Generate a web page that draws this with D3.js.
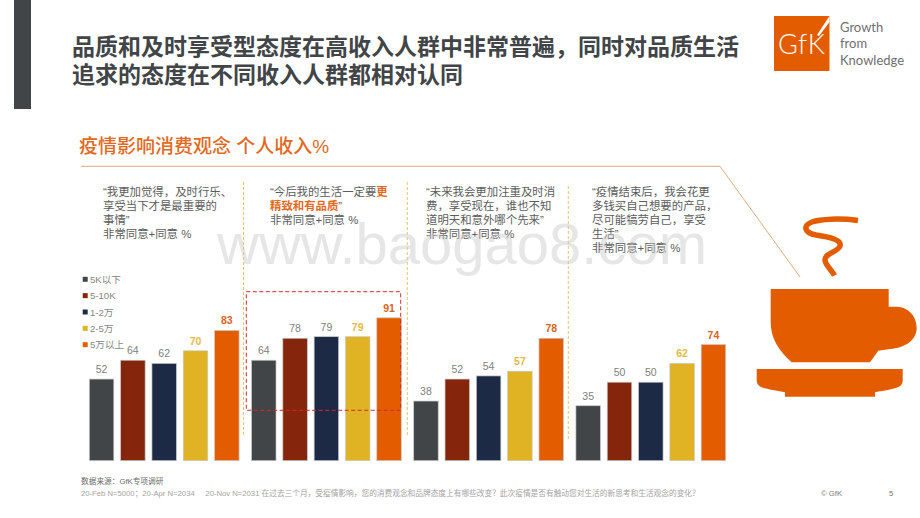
<!DOCTYPE html>
<html>
<head>
<meta charset="utf-8">
<script src="https://cdn.jsdelivr.net/npm/d3@7"></script>
<style>
  html, body { margin: 0; padding: 0; background: #fff; }
  svg { display: block; font-family: "Liberation Sans", "Noto Sans CJK SC", sans-serif; }
</style>
</head>
<body>
<svg id="slide" width="920" height="518"></svg>
<script>
const statements = ['s1', 's2', 's3', 's4'];
const incomes = ['5K以下', '5-10K', '1-2万', '2-5万', '5万以上'];
const values1 = [52, 64, 62, 70, 83];
const values2 = [64, 78, 79, 79, 91];
const values3 = [38, 52, 54, 57, 78];
const values4 = [35, 50, 50, 62, 74];
const seriesValues = [values1, values2, values3, values4];
const barColors = ['#414547', '#85260c', '#1d2a45', '#e0b324', '#e35d00'];
const labelColors = ['#808080', '#808080', '#808080', '#e2bb45', '#d8631f'];

const titleLines = [
  '品质和及时享受型态度在高收入人群中非常普遍，同时对品质生活',
  '追求的态度在不同收入人群都相对认同'
];
const quote1 = ['“我更加觉得，及时行乐、', '享受当下才是最重要的', '事情”', '非常同意+同意 %'];
const quote2 = ['“今后我的生活一定要|更', '|精致和有品质|”', '非常同意+同意 %'];
const quote3 = ['“未来我会更加注重及时消', '费，享受现在，谁也不知', '道明天和意外哪个先来”', '非常同意+同意 %'];
const quote4 = ['“疫情结束后，我会花更', '多钱买自己想要的产品，', '尽可能犒劳自己，享受', '生活”', '非常同意+同意 %'];
const quotes = [quote1, quote2, quote3, quote4];
const logoLines = ['Growth', 'from', 'Knowledge'];

const svg = d3.select('#slide');
const orange = '#e35d00';

// scales for the bars, no axis is shown on the slide
const xGroup = d3.scaleBand().domain(statements).range([89.3, 725.7]).paddingInner(0.0765);
const xBar = d3.scaleBand().domain(incomes).range([0, xGroup.bandwidth()]).paddingInner(0.217);
const y = d3.scaleLinear().domain([0, 100]).range([460.7, 303.7]);

// header
svg.append('rect').attr('x', 14).attr('y', 0).attr('width', 17).attr('height', 109).attr('fill', '#414547');

svg.append('g')
  .selectAll('text')
  .data(titleLines)
  .join('text')
  .attr('x', 72)
  .attr('y', (d, i) => 55 + i * 28)
  .attr('font-size', 23)
  .attr('font-weight', 700)
  .attr('fill', '#414547')
  .text(d => d);

// logo
const logo = svg.append('g');
logo.append('rect').attr('x', 774).attr('y', 16).attr('width', 55.5).attr('height', 55).attr('fill', orange);
logo.append('path').attr('d', 'M829.5 16L817 35L819 36L829.5 22Z').attr('fill', '#fff');
logo.append('text')
  .attr('x', 778).attr('y', 54)
  .attr('font-size', 27).attr('font-family', 'Lato, sans-serif').attr('font-weight', 300)
  .attr('fill', '#fff')
  .attr('textLength', 47)
  .text('GfK');
logo.selectAll('text.logo-line')
  .data(logoLines)
  .join('text')
  .attr('class', 'logo-line')
  .attr('x', 840)
  .attr('y', (d, i) => 32 + i * 16.3)
  .attr('font-size', 13)
  .attr('font-family', 'Lato, sans-serif')
  .attr('fill', '#6f6f6f')
  .text(d => d);

// section heading and rule
svg.append('text')
  .attr('x', 79).attr('y', 153)
  .attr('font-size', 19)
  .attr('font-weight', 500)
  .attr('fill', '#e2691d')
  .text('疫情影响消费观念 个人收入%');

svg.append('path')
  .attr('d', 'M81 166.3H720L800 277')
  .attr('fill', 'none')
  .attr('stroke', '#e2ab7e')
  .attr('stroke-width', 1);

// statement texts
const quoteX = [103, 270, 426, 592];
const quoteGroups = svg.append('g')
  .selectAll('g')
  .data(quotes)
  .join('g')
  .attr('transform', (d, i) => `translate(${quoteX[i]},0)`);

const quoteLines = quoteGroups.selectAll('text')
  .data(d => d)
  .join('text')
  .attr('y', (d, i) => 196 + i * 14)
  .attr('font-size', 11.4)
  .attr('fill', '#5c5c5c');

// every second piece between the | marks is the highlighted part
quoteLines.each(function (d) {
  const pieces = d.split('|');
  d3.select(this)
    .selectAll('tspan')
    .data(pieces)
    .join('tspan')
    .attr('font-weight', (p, i) => (i % 2 === 1) ? 700 : 400)
    .attr('fill', (p, i) => (i % 2 === 1) ? '#e2691d' : '#5c5c5c')
    .text(p => p);
});

// dashed dividers
const dividers = [[243.5, 182, 435], [407.3, 182, 435.7], [568.3, 186, 439]];
svg.append('g')
  .selectAll('line')
  .data(dividers)
  .join('line')
  .attr('x1', d => d[0])
  .attr('x2', d => d[0])
  .attr('y1', d => d[1])
  .attr('y2', d => d[2])
  .attr('stroke', '#e8c46c')
  .attr('stroke-width', 1)
  .attr('stroke-dasharray', '3,2');

// bars
const groups = svg.append('g')
  .selectAll('g')
  .data(seriesValues)
  .join('g')
  .attr('transform', (d, i) => `translate(${xGroup(statements[i])},0)`);

groups.selectAll('rect')
  .data(d => d)
  .join('rect')
  .attr('x', (d, i) => xBar(incomes[i]))
  .attr('y', d => y(d))
  .attr('width', xBar.bandwidth())
  .attr('height', d => y(0) - y(d))
  .attr('fill', (d, i) => barColors[i])
  .attr('stroke', '#c9c9c9')
  .attr('stroke-width', 0.7);

groups.selectAll('text')
  .data(d => d)
  .join('text')
  .attr('x', (d, i) => xBar(incomes[i]) + xBar.bandwidth() / 2)
  .attr('y', d => y(d) - 6)
  .attr('text-anchor', 'middle')
  .attr('font-size', 10.5)
  .attr('font-weight', (d, i) => i > 2 ? 700 : 400)
  .attr('fill', (d, i) => labelColors[i])
  .text(d => d);

// highlight box
svg.append('rect')
  .attr('x', 246.3).attr('y', 291.7)
  .attr('width', 154.4).attr('height', 118.6)
  .attr('fill', 'none')
  .attr('stroke', '#d8262c')
  .attr('stroke-width', 1)
  .attr('stroke-dasharray', '4,2.5');

// legend
const legend = svg.append('g')
  .selectAll('g')
  .data(incomes)
  .join('g')
  .attr('transform', (d, i) => `translate(82.7,${279.3 + i * 16.35})`);

legend.append('rect')
  .attr('y', -2.5)
  .attr('width', 5)
  .attr('height', 5)
  .attr('fill', (d, i) => barColors[i]);

legend.append('text')
  .attr('x', 7.3)
  .attr('y', 3.5)
  .attr('font-size', 9.6)
  .attr('fill', '#858585')
  .text(d => d);

// cup
const cup = svg.append('g').attr('transform', 'translate(740,200)').attr('fill', orange);
cup.append('path')
  .attr('d', 'M30.7 89H148.7V106.7H157C168 107 176.7 116 176.7 128C176.7 140 165 148 150 149L138.3 150.7L130 162.3H51.7C38 150 30.7 138 30.7 122Z');
cup.append('path')
  .attr('d', 'M16.7 169H162.7V180C162.7 188 156 188.5 135 192.3V196.7H45V192.3C24 188.5 16.7 188 16.7 180Z');
cup.append('path')
  .attr('d', 'M118 20.5C100 18 80 19 72 22C62 26 65 33 76 35C90 37 102 40 100 46C98 52 85 53 85 60C85 65 92 70 94.5 75.5')
  .attr('fill', 'none')
  .attr('stroke', orange)
  .attr('stroke-width', 5.5);

// footer
svg.append('text')
  .attr('x', 81).attr('y', 484)
  .attr('font-size', 7.7)
  .attr('fill', '#6a6a6a')
  .text('数据来源：GfK专项调研');

svg.append('text')
  .attr('x', 81).attr('y', 496)
  .attr('font-size', 7.7)
  .attr('fill', '#a3a3a3')
  .attr('xml:space', 'preserve')
  .text('20-Feb N=5000；20-Apr N=2034     20-Nov N=2031 在过去三个月，受疫情影响，您的消费观念和品牌态度上有哪些改变？此次疫情是否有触动您对生活的新思考和生活观念的变化？');

svg.append('text')
  .attr('x', 821).attr('y', 496)
  .attr('font-size', 7.7)
  .attr('fill', '#7a7a7a')
  .text('© GfK');

svg.append('text')
  .attr('x', 889).attr('y', 496)
  .attr('font-size', 7.7)
  .attr('fill', '#7a7a7a')
  .text('5');

// watermark sits over the slide
svg.append('text')
  .attr('x', 217).attr('y', 264)
  .attr('font-size', 58)
  .attr('fill', '#c8c8c8')
  .attr('fill-opacity', 0.45)
  .text('www.baogao8.com');
</script>
</body>
</html>
